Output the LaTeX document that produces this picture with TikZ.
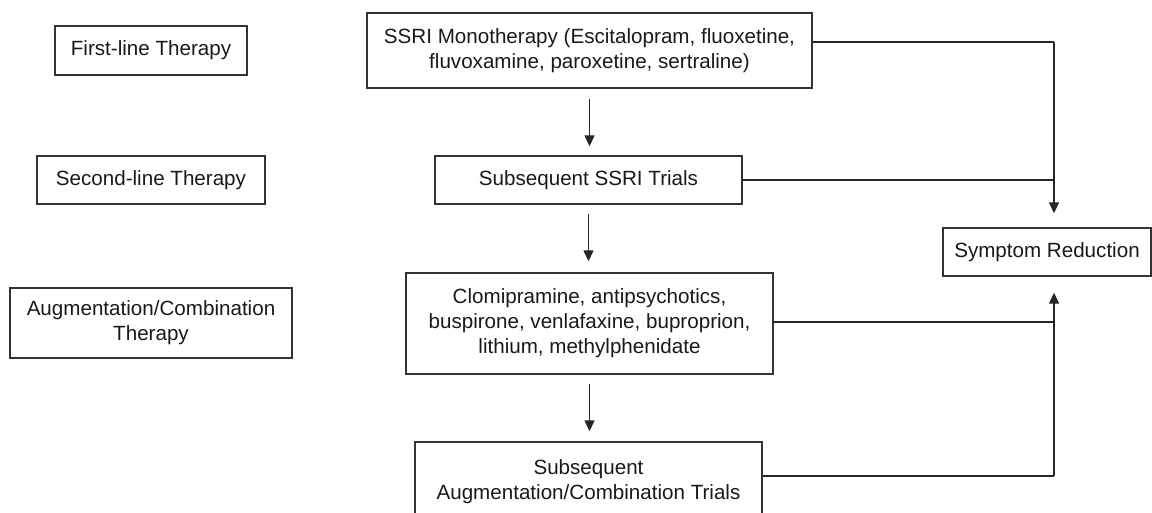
\documentclass[tikz,border=0pt]{standalone}
\usepackage{fontspec}
\setmainfont{Liberation Sans}
\usetikzlibrary{arrows.meta}
\begin{document}
\begin{tikzpicture}[x=1pt,y=-1pt,
  box/.style={draw=black!80,line width=1.4pt,inner sep=0pt,align=center,
    font=\fontsize{20.6}{25}\selectfont,text=black!90},
  conn/.style={draw=black!85,line width=1.4pt},
  arr/.style={conn,-{Triangle[width=10pt,length=11pt]}}]
\useasboundingbox (0,0) rectangle (1152,513);
\clip (0,0) rectangle (1152,513);
% left column
\node[box,minimum width=192pt,minimum height=49pt] (first) at (151,50.5) {First-line Therapy};
\node[box,minimum width=228pt,minimum height=48pt] (second) at (151,180) {Second-line Therapy};
\node[box,minimum width=282pt,minimum height=70pt] (aug) at (151,323) {Augmentation/Combination\\Therapy};
% middle column
\node[box,minimum width=445pt,minimum height=75pt] (mono) at (589.5,50.5) {SSRI Monotherapy (Escitalopram, fluoxetine,\\fluvoxamine, paroxetine, sertraline)};
\node[box,minimum width=307pt,minimum height=48pt] (subssri) at (588.5,180) {Subsequent SSRI Trials};
\node[box,minimum width=367pt,minimum height=101pt] (clomi) at (589.5,323.5) {Clomipramine, antipsychotics,\\buspirone, venlafaxine, buproprion,\\lithium, methylphenidate};
\node[box,minimum width=347pt,minimum height=79pt] (subaug) at (588.5,481.5) {Subsequent\\Augmentation/Combination Trials};
% right
\node[box,minimum width=208pt,minimum height=48pt] (sr) at (1047,252) {Symptom Reduction};
% rails
\coordinate (jtop) at (1054,42);
\coordinate (jmid) at (1054,322);
\coordinate (jbot) at (1054,476);
% vertical flow arrows
\draw[arr,shorten <=10pt,shorten >=9pt] (mono.south) -- (mono.south |- subssri.north);
\draw[arr,shorten <=9pt,shorten >=11pt] (subssri.south) -- (subssri.south |- clomi.north);
\draw[arr,shorten <=9pt,shorten >=10pt] (clomi.south) -- (clomi.south |- subaug.north);
% to symptom reduction
\draw[conn] (mono.east |- jtop) -- (jtop);
\draw[conn] (subssri.east) -- (subssri.east -| jtop);
\draw[arr,shorten >=14pt] (jtop) -- (jtop |- sr.north);
\draw[conn] (clomi.east |- jmid) -- (jmid);
\draw[conn] (subaug.east |- jbot) -- (jbot);
\draw[arr,shorten >=16pt] (jbot) -- (jbot |- sr.south);
\end{tikzpicture}
\end{document}
